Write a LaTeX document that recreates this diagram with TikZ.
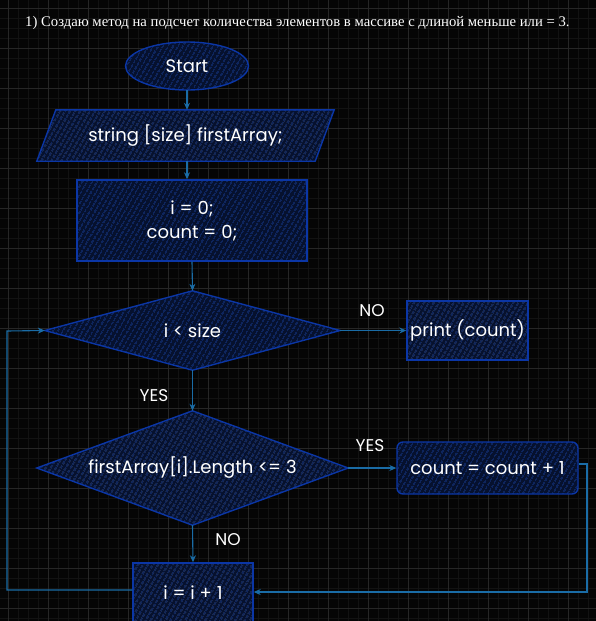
\documentclass[tikz,border=0pt]{standalone}
\usepackage{fontspec}
\setmainfont{Poppins}
\newfontfamily\titlefont{Liberation Serif}
\usetikzlibrary{shapes.geometric,arrows.meta,patterns.meta}
\definecolor{bgc}{HTML}{050505}
\definecolor{gridmaj}{HTML}{262626}
\definecolor{gridmin}{HTML}{121212}
\definecolor{edgeblue}{HTML}{0B36A6}
\definecolor{fillblue}{HTML}{06112E}
\definecolor{hatchblue}{HTML}{1D4AB4}
\definecolor{connblue}{HTML}{1A6CA6}
\pgfdeclarelayer{grid}
\pgfdeclarelayer{background}
\pgfsetlayers{grid,background,main}
\tikzset{
  shapebox/.style={draw=edgeblue, line width=1.4pt, preaction={fill=fillblue},
    pattern={Lines[angle=60,distance=4pt,line width=0.7pt]}, pattern color=hatchblue},
  txt/.style={text=white, font=\fontsize{18}{24}\selectfont, inner sep=0pt, align=center},
  lbl/.style={text=white, font=\fontsize{17}{18}\selectfont, inner sep=0pt},
  conn/.style={draw=connblue, line width=1.1pt, -{Stealth[length=7pt,width=6pt]}}
}
\begin{document}
\begin{tikzpicture}[x=1pt,y=-1pt]
\useasboundingbox (0,0) rectangle (596,621);
\begin{pgfonlayer}{grid}
\fill[bgc] (0,0) rectangle (596,621);
\foreach \x in {8,18,...,596} \draw[gridmin, line width=0.5pt] (\x,0) -- (\x,621);
\foreach \y in {8,18,...,621} \draw[gridmin, line width=0.5pt] (0,\y) -- (596,\y);
\foreach \x in {8,48,...,596} \draw[gridmaj, line width=0.7pt] (\x,0) -- (\x,621);
\foreach \y in {8,48,...,621} \draw[gridmaj, line width=0.7pt] (0,\y) -- (596,\y);
\end{pgfonlayer}

\node[text=white, font=\titlefont\fontsize{14.7}{16}\selectfont, anchor=west, inner sep=0pt] (title) at (25,23)
  {1) Создаю метод на подсчет количества элементов в массиве с длиной меньше или = 3.};

\node[txt, ellipse, shapebox, minimum width=123pt, minimum height=48pt] (start) at (187,66) {Start};
\node[txt, minimum width=297pt, minimum height=51pt] (para) at (185.5,135.5) {string [size] firstArray;};
\node[txt, shapebox, minimum width=230pt, minimum height=81pt] (init) at (192,220.5) {i = 0;\\count = 0;};
\node[txt, minimum width=295pt, minimum height=79pt] (d1) at (192.5,330.5) {i < size};
\node[txt, shapebox, minimum width=121pt, minimum height=59pt] (print) at (467.5,330.5) {print (count)};
\node[txt, minimum width=311pt, minimum height=114pt] (d2) at (192.5,468) {firstArray[i].Length <= 3};
\node[txt, shapebox, rounded corners=6pt, minimum width=181pt, minimum height=52pt] (cnt) at (487.5,468) {count = count + 1};
\node[txt, shapebox, minimum width=120pt, minimum height=60pt] (inc) at (193,593) {i = i + 1};

\begin{pgfonlayer}{background}
\draw[shapebox] ([xshift=19pt]para.north west) -- (para.north east) -- ([xshift=-19pt]para.south east) -- (para.south west) -- cycle;
\draw[shapebox] (d1.north) -- (d1.east) -- (d1.south) -- (d1.west) -- cycle;
\draw[shapebox] (d2.north) -- (d2.east) -- (d2.south) -- (d2.west) -- cycle;
\end{pgfonlayer}

\node[lbl] (no1) at (372,311) {NO};
\node[lbl] (yes1) at (154,396) {YES};
\node[lbl] (yes2) at (370,446) {YES};
\node[lbl] (no2) at (228,540) {NO};

\coordinate (r1) at (587,464);
\coordinate (r2) at (587,592);
\coordinate (l1) at (7,590);
\coordinate (l2) at (7,331);

\draw[conn] (start.south) -- (start.south |- para.north);
\draw[conn] (para.south -| start.south) -- (start.south |- init.north);
\draw[conn] (init.south) -- (d1.north);
\draw[conn] (d1.east) -- (print.west);
\draw[conn] (d1.south) -- (d2.north);
\draw[conn] (d2.east) -- (cnt.west);
\draw[conn] (d2.south) -- (inc.north);
\draw[conn] (cnt.east |- r1) -- (r1) -- (r2) -- (inc.east |- r2);
\draw[conn] (inc.west |- l1) -- (l1) -- (l2) -- (d1.west);
\end{tikzpicture}
\end{document}
